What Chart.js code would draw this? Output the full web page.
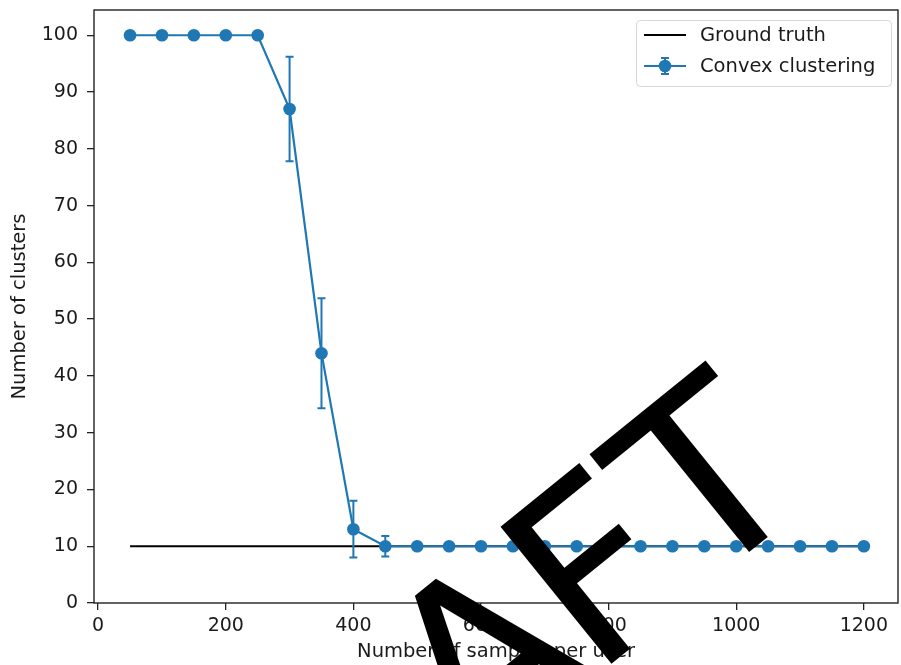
<!DOCTYPE html>
<html>
<head>
<meta charset="utf-8">
<script src="https://cdn.jsdelivr.net/npm/chart.js@4.4.1/dist/chart.umd.min.js"></script>
<style>
    html, body { margin: 0; padding: 0; background: #fff; }
    #wrap { width: 901px; height: 665px; }
</style>
</head>
<body>
<div id="wrap"><canvas id="clusterChart" width="901" height="665"></canvas></div>
<script>
const sampleSizes = [50, 100, 150, 200, 250, 300, 350, 400, 450, 500, 550, 600,
                     650, 700, 750, 800, 850, 900, 950, 1000, 1050, 1100, 1150, 1200];
const groundTruth = [10, 10, 10, 10, 10, 10, 10, 10, 10, 10, 10, 10,
                     10, 10, 10, 10, 10, 10, 10, 10, 10, 10, 10, 10];
const convexMean = [100, 100, 100, 100, 100, 87, 44, 13, 10, 10, 10, 10,
                    10, 10, 10, 10, 10, 10, 10, 10, 10, 10, 10, 10];
const convexErr = [0, 0, 0, 0, 0, 9.2, 9.7, 5, 1.8, 0, 0, 0,
                   0, 0, 0, 0, 0, 0, 0, 0, 0, 0, 0, 0];
const xTicks = [0, 200, 400, 600, 800, 1000, 1200];
const yTicks = [0, 10, 20, 30, 40, 50, 60, 70, 80, 90, 100];

const BLUE = '#1f77b4';
const FONT = 'DejaVu Sans';
const TEXT = '#1a1a1a';

function toPoints(ys) {
    return sampleSizes.map((x, i) => ({ x: x, y: ys[i] }));
}

// vertical error bars with caps, drawn just before the convex clustering line
const errorBars = {
    id: 'errorBars',
    beforeDatasetDraw(chart, args) {
        if (args.index !== 1) return;
        const ctx = chart.ctx;
        const xs = chart.scales.x, ys = chart.scales.y;
        ctx.save();
        ctx.strokeStyle = BLUE;
        ctx.lineWidth = 2;
        convexErr.forEach((e, i) => {
            if (!e) return;
            const px = xs.getPixelForValue(sampleSizes[i]);
            const top = ys.getPixelForValue(convexMean[i] + e);
            const bot = ys.getPixelForValue(convexMean[i] - e);
            ctx.beginPath();
            ctx.moveTo(px, top); ctx.lineTo(px, bot);
            ctx.moveTo(px - 4, top); ctx.lineTo(px + 4, top);
            ctx.moveTo(px - 4, bot); ctx.lineTo(px + 4, bot);
            ctx.stroke();
        });
        ctx.restore();
    }
};

// axes frame, legend box and the watermark
const decorations = {
    id: 'decorations',
    afterDraw(chart) {
        const ctx = chart.ctx;
        const a = chart.chartArea;
        ctx.save();
        ctx.strokeStyle = '#222';
        ctx.lineWidth = 1.4;
        ctx.strokeRect(a.left, a.top, a.right - a.left, a.bottom - a.top);

        // legend
        const lx = a.right - 262, ly = a.top + 10, lw = 255, lh = 66;
        ctx.beginPath();
        ctx.roundRect(lx + 0.5, ly + 0.5, lw, lh, 4);
        ctx.fillStyle = 'rgba(255,255,255,0.8)';
        ctx.fill();
        ctx.strokeStyle = '#d6d6d6';
        ctx.lineWidth = 1;
        ctx.stroke();

        const sets = chart.data.datasets;
        const rows = [ly + 15, ly + 46];
        ctx.font = '19.5px "' + FONT + '"';
        ctx.textBaseline = 'middle';
        ctx.fillStyle = TEXT;
        sets.forEach((ds, i) => {
            const y = rows[i];
            ctx.strokeStyle = ds.borderColor;
            ctx.lineWidth = 2;
            ctx.beginPath();
            ctx.moveTo(lx + 8, y); ctx.lineTo(lx + 50, y);
            ctx.stroke();
            if (i === 1) {
                const cx = lx + 29;
                ctx.beginPath();
                ctx.moveTo(cx, y - 8); ctx.lineTo(cx, y + 8);
                ctx.moveTo(cx - 4, y - 8); ctx.lineTo(cx + 4, y - 8);
                ctx.moveTo(cx - 4, y + 8); ctx.lineTo(cx + 4, y + 8);
                ctx.stroke();
                ctx.beginPath();
                ctx.arc(cx, y, 6.3, 0, Math.PI * 2);
                ctx.fillStyle = BLUE;
                ctx.fill();
                ctx.fillStyle = TEXT;
            }
            ctx.fillText(ds.label, lx + 64, y + 1);
        });

        // watermark, set in two runs so the A tucks a little closer to the F
        ctx.translate(816, 498);
        ctx.rotate(-39 * Math.PI / 180);
        ctx.font = '242px "' + FONT + '"';
        ctx.fontKerning = 'none';
        ctx.textAlign = 'right';
        ctx.textBaseline = 'alphabetic';
        ctx.fillStyle = '#000';
        ctx.fillText('FT', 0, 0);
        ctx.fillText('DRA', -ctx.measureText('FT').width + 10, 0);
        ctx.restore();
    }
};

// drop the label overhang chart.js reserves, so the plot box sits where padding puts it
function noOverhang(s) {
    s.paddingTop = 0; s.paddingBottom = 0;
    s.paddingLeft = 0; s.paddingRight = 0;
}

const ctx = document.getElementById('clusterChart').getContext('2d');
new Chart(ctx, {
    type: 'line',
    data: {
        datasets: [
            {
                label: 'Ground truth',
                data: toPoints(groundTruth),
                borderColor: '#000',
                borderWidth: 2,
                pointRadius: 0,
                order: 2
            },
            {
                label: 'Convex clustering',
                data: toPoints(convexMean),
                borderColor: BLUE,
                backgroundColor: BLUE,
                borderWidth: 2.2,
                pointRadius: 6.3,
                pointBorderWidth: 0,
                pointBackgroundColor: BLUE,
                order: 1
            }
        ]
    },
    options: {
        responsive: false,
        animation: false,
        layout: { autoPadding: false, padding: { left: 0, top: 10, right: 3, bottom: 0 } },
        plugins: {
            legend: { display: false },
            tooltip: { enabled: false }
        },
        scales: {
            x: {
                type: 'linear',
                min: -6.5,
                max: 1253.5,
                afterBuildTicks: s => { s.ticks = xTicks.map(v => ({ value: v })); },
                afterFit: s => { s.height = 62; noOverhang(s); },
                grid: { display: true, drawOnChartArea: false, drawTicks: true, tickLength: 7, color: '#222', lineWidth: 1.3 },
                border: { display: false },
                ticks: { padding: 5, color: TEXT, font: { family: FONT, size: 19 }, maxRotation: 0, callback: v => String(v) },
                title: { display: true, text: 'Number of samples per user', color: TEXT, font: { family: FONT, size: 19.5 }, padding: { top: 2, bottom: 1 } }
            },
            y: {
                type: 'linear',
                min: 0,
                max: 104.45,
                afterBuildTicks: s => { s.ticks = yTicks.map(v => ({ value: v })); },
                afterFit: s => { s.width = 94; noOverhang(s); },
                grid: { display: true, drawOnChartArea: false, drawTicks: true, tickLength: 7, color: '#222', lineWidth: 1.3 },
                border: { display: false },
                ticks: { padding: 9, color: TEXT, font: { family: FONT, size: 19 }, callback: v => String(v) },
                title: { display: true, text: 'Number of clusters', color: TEXT, font: { family: FONT, size: 19.5 }, padding: { top: 8, bottom: 4 } }
            }
        }
    },
    plugins: [errorBars, decorations]
});
</script>
</body>
</html>
